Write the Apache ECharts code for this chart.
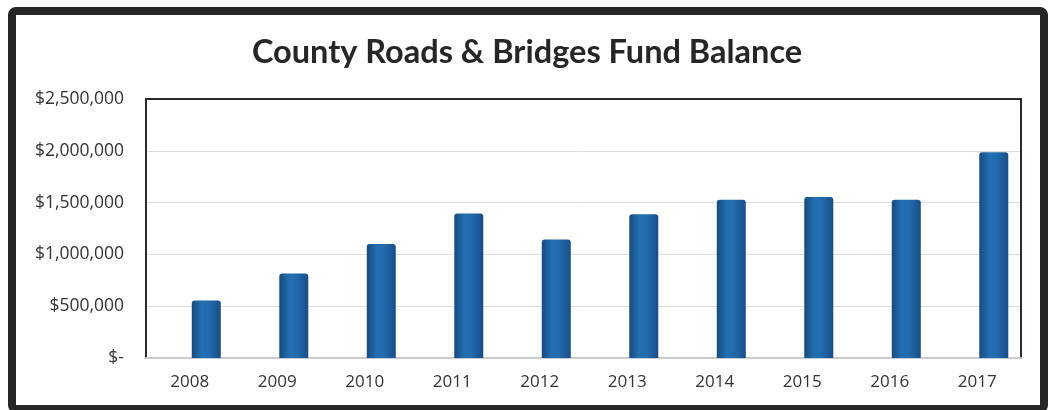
<!DOCTYPE html>
<html>
<head>
<meta charset="utf-8">
<title>County Roads &amp; Bridges Fund Balance</title>
<script src="https://cdn.jsdelivr.net/npm/echarts@6/dist/echarts.min.js"></script>
<style>
  html, body { margin: 0; padding: 0; background: #ffffff; }
  #chart { width: 1054px; height: 410px; }
</style>
</head>
<body>
<div id="chart"></div>
<script>
// Fiscal years on the category axis
const years = ['2008', '2009', '2010', '2011', '2012', '2013', '2014', '2015', '2016', '2017'];
// Year-end fund balance, in dollars
const fundBalance = [555000, 815000, 1100000, 1395000, 1145000, 1388000, 1528000, 1555000, 1528000, 1985000];
// Value axis ticks
const yTicks = [0, 500000, 1000000, 1500000, 2000000, 2500000];

const chartTitle = 'County Roads & Bridges Fund Balance';

function dollars(v) {
  if (v === 0) return '$-';
  return '$' + v.toLocaleString('en-US');
}

const chart = echarts.init(document.getElementById('chart'), null, { renderer: 'canvas' });

const barFill = new echarts.graphic.LinearGradient(0, 0, 1, 0, [
  { offset: 0, color: '#174a80' },
  { offset: 0.35, color: '#236fb2' },
  { offset: 0.6, color: '#216bad' },
  { offset: 1, color: '#184d89' }
]);

const frameLine = { show: true, onZero: false, lineStyle: { color: '#2a2a2a', width: 2 } };

chart.setOption({
  animation: false,
  backgroundColor: '#ffffff',
  title: {
    text: chartTitle,
    left: 'center',
    top: 31,
    textStyle: {
      fontFamily: 'Lato',
      fontWeight: 'bold',
      fontSize: 32.5,
      color: '#262626'
    }
  },
  graphic: [{
    type: 'rect',
    shape: { x: 12, y: 11, width: 1032, height: 398, r: 4 },
    style: { fill: 'none', stroke: '#262626', lineWidth: 8 },
    z: 100
  }],
  grid: {
    left: 146,
    top: 99,
    width: 875,
    height: 259
  },
  xAxis: [
    {
      type: 'category',
      data: years,
      axisTick: { show: false },
      axisLine: { show: true, onZero: false, lineStyle: { color: '#cccccc', width: 2 } },
      axisLabel: {
        margin: 16,
        fontFamily: 'Open Sans',
        fontSize: 17,
        color: '#333333'
      }
    },
    {
      // dark top edge of the plot frame
      type: 'category',
      position: 'top',
      data: years,
      axisTick: { show: false },
      axisLabel: { show: false },
      axisLine: frameLine
    }
  ],
  yAxis: [
    {
      type: 'value',
      min: yTicks[0],
      max: yTicks[yTicks.length - 1],
      interval: yTicks[1] - yTicks[0],
      axisLine: frameLine,
      axisTick: { show: false },
      splitLine: { show: true, lineStyle: { color: '#dedede', width: 1 } },
      axisLabel: {
        margin: 22,
        fontFamily: 'Open Sans',
        fontSize: 17.5,
        color: '#333333',
        formatter: dollars
      }
    },
    {
      // dark right edge of the plot frame
      type: 'value',
      position: 'right',
      min: yTicks[0],
      max: yTicks[yTicks.length - 1],
      interval: yTicks[1] - yTicks[0],
      axisLine: frameLine,
      axisTick: { show: false },
      axisLabel: { show: false },
      splitLine: { show: false }
    }
  ],
  series: [
    {
      // empty spacer column: pushes the balance bars right of each category centre
      name: 'spacer',
      type: 'bar',
      barWidth: 29,
      barGap: '14%',
      data: [],
      silent: true
    },
    {
      name: 'Fund Balance',
      type: 'bar',
      barWidth: 29,
      barGap: '14%',
      data: fundBalance,
      itemStyle: {
        color: barFill,
        borderRadius: [3, 3, 0, 0]
      }
    }
  ]
});
</script>
</body>
</html>
